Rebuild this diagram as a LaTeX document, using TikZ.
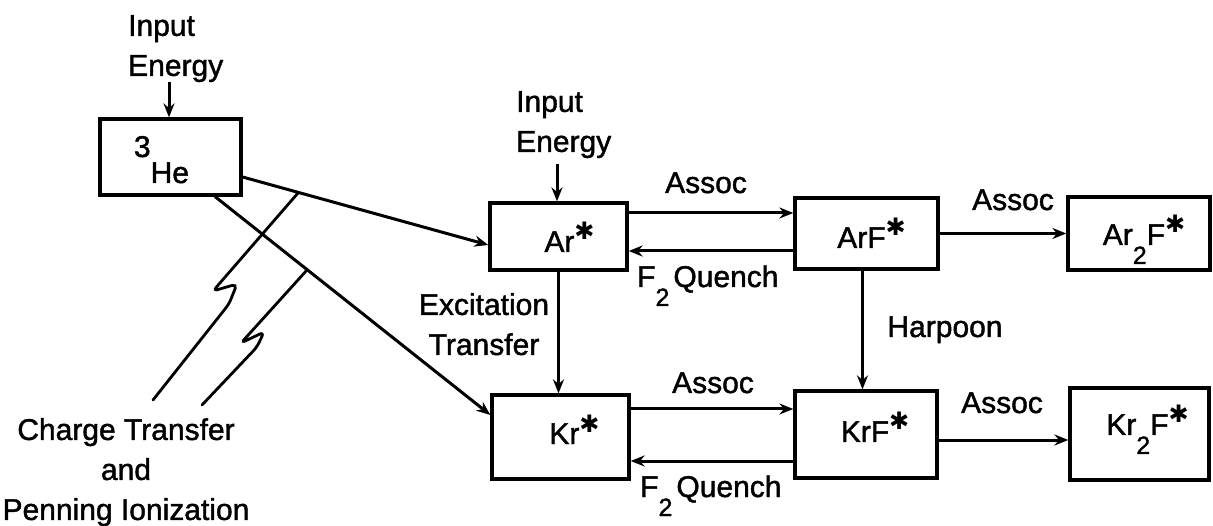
\documentclass[tikz,border=0pt]{standalone}
\usepackage{fontspec}
\setmainfont{Liberation Sans}[FakeBold=1.4]
\newfontfamily\symfont{DejaVu Sans}
\usetikzlibrary{arrows.meta,calc}
\newcommand\hstar{\raisebox{12pt}{\symfont\fontsize{24}{24}\selectfont ✱}}
\newcommand\lowsub[1]{\raisebox{-19pt}{\fontsize{25}{25}\selectfont #1}}
\newcommand\inbox[2]{\raisebox{#1}[0pt][0pt]{#2}}
\begin{document}
\begin{tikzpicture}[x=1pt,y=-1pt,font=\fontsize{30}{40}\selectfont,
  box/.style={draw,line width=3.2pt,inner sep=0pt},
  arr/.style={line width=3pt,-{Stealth[length=14pt,width=11pt]}},
  wig/.style={line width=2.8pt,line cap=round,rounded corners=5pt},
  lbl/.style={inner sep=0pt}]
\useasboundingbox (0,0) rectangle (1213,526);
% boxes
\node[box,minimum width=141pt,minimum height=76pt] (he) at (170.5,157) {\hspace*{-18pt}\inbox{-26pt}{\raisebox{26pt}{3}He}};
\node[box,minimum width=137pt,minimum height=67pt] (ar) at (558.5,236.5) {\hspace*{22pt}\inbox{-15.5pt}{Ar\hstar}};
\node[box,minimum width=143pt,minimum height=71pt] (arf) at (866.5,233.5) {\hspace*{10pt}\inbox{-14.5pt}{ArF\hstar}};
\node[box,minimum width=142pt,minimum height=73pt] (ar2f) at (1139,233.5) {\hspace*{10pt}\inbox{-11.5pt}{Ar\lowsub{2}F\hstar}};
\node[box,minimum width=137pt,minimum height=84pt] (kr) at (560.5,437) {\hspace*{28pt}\inbox{-7pt}{Kr\hstar}};
\node[box,minimum width=142pt,minimum height=87pt] (krf) at (866,434.5) {\hspace*{18pt}\inbox{-7.5pt}{KrF\hstar}};
\node[box,minimum width=139pt,minimum height=92pt] (kr2f) at (1139.5,434) {\hspace*{16pt}\inbox{-1pt}{Kr\lowsub{2}F\hstar}};
% labels
\node[lbl,anchor=north west,align=left] (ie1) at (128,15) {Input\\Energy};
\node[lbl,anchor=north west,align=left] (ie2) at (516,91) {Input\\Energy};
\node[lbl,anchor=base] (as1) at (706,193) {Assoc};
\node[lbl,anchor=base west] (q1) at (637,287) {F\lowsub{2}\hspace{4pt}Quench};
\node[lbl,anchor=north,align=center] (exc) at (484,293) {Excitation\\Transfer};
\node[lbl,anchor=base] (hp) at (945,337) {Harpoon};
\node[lbl,anchor=base] (as3) at (1013,210) {Assoc};
\node[lbl,anchor=base] (as2) at (713,393) {Assoc};
\node[lbl,anchor=base west] (q2) at (640,497) {F\lowsub{2}\hspace{4pt}Quench};
\node[lbl,anchor=base] (as4) at (1002,413) {Assoc};
\node[lbl,anchor=north,align=center] (ct) at (126,418) {Charge Transfer\\and\\Penning Ionization};
% input energy arrows
\draw[arr] ([xshift=-1.5pt]he.north |- ie1.south) -- ([xshift=-1.5pt]he.north);
\draw[arr] ([xshift=-1.5pt,yshift=-6pt]ar.north |- ie2.south) -- ([xshift=-1.5pt]ar.north);
% He arrows
\draw[arr] ([yshift=-20pt]he.east) -- ([yshift=-8.5pt]ar.west);
\draw[arr] ([xshift=44.5pt]he.south) -- ([yshift=22pt]kr.west);
% Ar / ArF row
\draw[arr] ([yshift=23.5pt]ar.east) -- ([yshift=23.5pt]ar.east -| arf.west);
\draw[arr] ([yshift=-14.5pt]ar.east -| arf.west) -- ([yshift=-14.5pt]ar.east);
\draw[arr] (arf.east) -- (arf.east -| ar2f.west);
% verticals
\draw[arr] (ar.south) -- (ar.south |- kr.north);
\draw[arr] ([xshift=-4pt]arf.south) -- ([xshift=-4pt]arf.south |- krf.north);
% Kr / KrF row
\draw[arr] ([yshift=28pt]kr.east) -- ([yshift=28pt]kr.east -| krf.west);
\draw[arr] ([yshift=-24pt]kr.east -| krf.west) -- ([yshift=-24pt]kr.east);
\draw[arr] ([yshift=-5.5pt]krf.east) -- ([yshift=-5.5pt]krf.east -| kr2f.west);
% charge transfer squiggles
\coordinate (sa) at (298,193);
\coordinate (ea) at (153,400);
\coordinate (sb) at (307,270);
\coordinate (eb) at (202,405);
\draw[wig] (sa) -- (213,291) -- (237,284) -- (229,304) -- (ea);
\draw[wig] (sb) -- (241,343) -- (264,332) -- (257,347) -- (eb);
\end{tikzpicture}
\end{document}
